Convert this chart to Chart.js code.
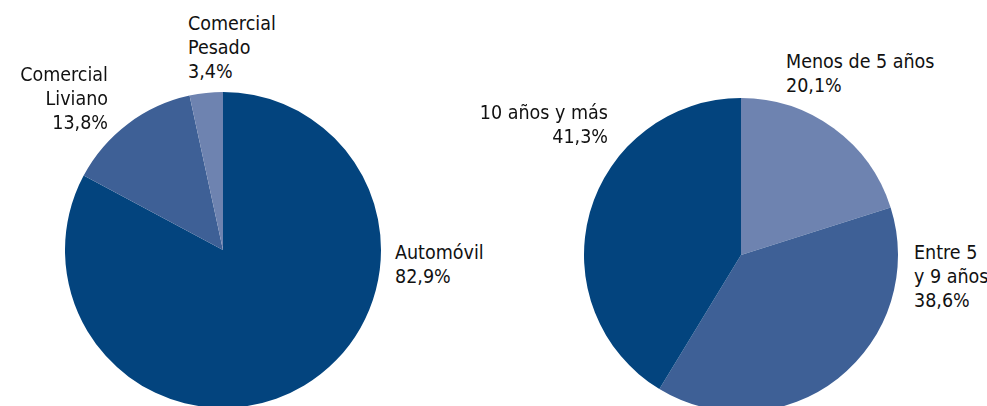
<!DOCTYPE html>
<html>
<head>
<meta charset="utf-8">
<script src="https://cdn.jsdelivr.net/npm/chart.js@4"></script>
<style>
  html, body { margin: 0; padding: 0; background: #fff; overflow: hidden; }
  body { width: 987px; height: 406px; position: relative; font-family: "DejaVu Sans Condensed", "DejaVu Sans", sans-serif; font-size: 19.5px; color: #111; }
  canvas { position: absolute; }
  #vehChart { left: 65px; top: 92px; }
  #ageChart { left: 584px; top: 98px; }
  .lbl { position: absolute; line-height: 24px; white-space: nowrap; }
  .r { text-align: right; }
</style>
</head>
<body>
<canvas id="vehChart" width="316" height="316"></canvas>
<canvas id="ageChart" width="314" height="314"></canvas>

<div class="lbl" id="veh0" style="left:395px; top:241px;"></div>
<div class="lbl r" id="veh1" style="right:879px; top:63px;"></div>
<div class="lbl" id="veh2" style="left:188px; top:12px;"></div>

<div class="lbl" id="age0" style="left:786px; top:50px;"></div>
<div class="lbl" id="age1" style="left:914px; top:241px;"></div>
<div class="lbl r" id="age2" style="right:379px; top:101px;"></div>

<script>
const vehicleLabels = ["Automóvil", "Comercial Liviano", "Comercial Pesado"];
const vehicleLines = [["Automóvil"], ["Comercial", "Liviano"], ["Comercial", "Pesado"]];
const vehicleShares = [82.9, 13.8, 3.4];

const ageLabels = ["Menos de 5 años", "Entre 5 y 9 años", "10 años y más"];
const ageLines = [["Menos de 5 años"], ["Entre 5", "y 9 años"], ["10 años y más"]];
const ageShares = [20.1, 38.6, 41.3];

const dark = "#03447e";
const mid = "#3e6096";
const light = "#6e83b0";

function pct(v) {
  return v.toFixed(1).replace(".", ",") + "%";
}

function pieConfig(labels, values, colors) {
  return {
    type: "pie",
    data: {
      labels: labels,
      datasets: [{
        data: values,
        backgroundColor: colors,
        borderWidth: 0,
      }],
    },
    options: {
      responsive: false,
      animation: false,
      layout: { padding: 0 },
      plugins: {
        legend: { display: false },
        tooltip: { enabled: false },
      },
    },
  };
}

new Chart(document.getElementById("vehChart").getContext("2d"),
  pieConfig(vehicleLabels, vehicleShares, [dark, mid, light]));
new Chart(document.getElementById("ageChart").getContext("2d"),
  pieConfig(ageLabels, ageShares, [light, mid, dark]));

// text labels
vehicleLines.forEach(function (lines, i) {
  document.getElementById("veh" + i).innerHTML = lines.concat([pct(vehicleShares[i])]).join("<br>");
});
ageLines.forEach(function (lines, i) {
  document.getElementById("age" + i).innerHTML = lines.concat([pct(ageShares[i])]).join("<br>");
});
</script>
</body>
</html>
